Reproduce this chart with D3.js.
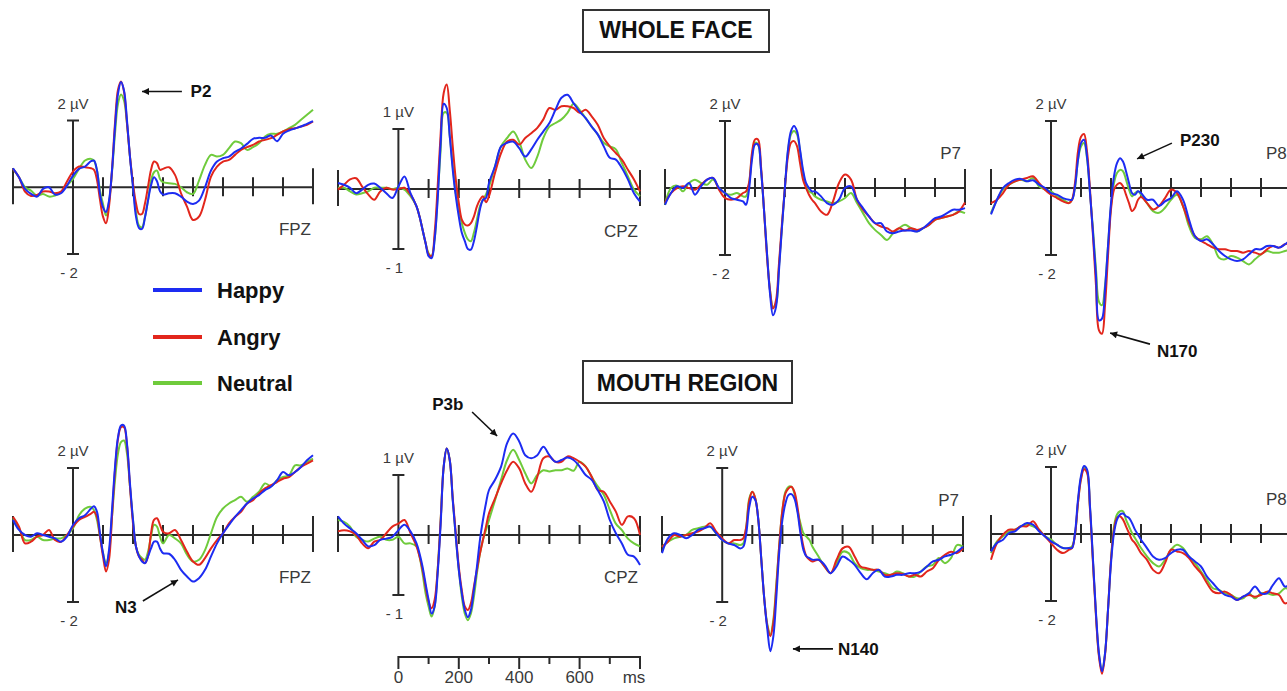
<!DOCTYPE html>
<html><head><meta charset="utf-8">
<script src="https://cdn.jsdelivr.net/npm/d3@7"></script>
<style>
html,body{margin:0;padding:0;background:#fff;}
svg{display:block;}
text{font-family:"Liberation Sans",Arial,Helvetica,sans-serif;}
</style></head><body>
<svg id="chart" width="1287" height="691"></svg>
<script>
// ---------- DATA ----------
const times = [-200,-180,-160,-140,-120,-100,-80,-60,-40,-20,0,20,40,60,
  70,80,90,100,110,120,130,140,150,160,170,180,190,200,210,220,230,240,250,260,270,280,290,300,
  320,340,360,380,400,420,440,460,480,500,520,540,560,580,600,620,640,660,680,700,720,740,760,780,800];

const seriesNames = ["Happy", "Angry", "Neutral"];
const rowTitles = ["WHOLE FACE", "MOUTH REGION"];
const electrodes = ["FPZ", "CPZ", "P7", "P8"];
const yRanges = [2, 1, 2, 2];             // µV of the calibration bar per electrode
const scaleBarTicks = [0, 100, 200, 300, 400, 500, 600, 700, 800];
const scaleBarLabels = [0, 200, 400, 600];

// Whole face
const fpzWholeHappy = [0.57,0.30,-0.05,-0.20,-0.28,-0.05,0.00,-0.22,-0.18,0.05,0.35,0.55,0.62,0.78,
  0.80,0.50,-0.20,-0.60,-0.74,-0.40,0.50,1.80,2.80,3.15,2.90,2.00,0.90,0.00,-0.88,-1.22,-1.25,-0.90,-0.40,0.05,0.30,0.18,-0.12,-0.22,
  -0.18,-0.18,-0.28,-0.43,-0.50,-0.40,0.00,0.50,0.77,0.87,0.92,1.06,1.16,1.30,1.45,1.48,1.48,1.55,1.38,1.60,1.70,1.76,1.82,1.90,1.98];
const fpzWholeAngry = [0.55,0.30,-0.13,-0.26,-0.23,-0.13,-0.13,-0.18,-0.13,0.17,0.47,0.62,0.60,0.57,
  0.52,0.22,-0.38,-0.88,-1.08,-0.58,0.52,1.92,2.92,3.17,2.87,1.92,0.92,0.12,-0.48,-0.80,-0.80,-0.48,0.02,0.52,0.77,0.72,0.52,0.55,
  0.60,0.37,-0.18,-0.58,-0.98,-0.88,-0.38,0.32,0.62,0.77,0.82,0.97,1.12,1.20,1.27,1.37,1.42,1.47,1.57,1.67,1.74,1.77,1.82,1.87,1.97];
const fpzWholeNeutral = [0.55,0.30,0.00,-0.10,-0.25,-0.20,-0.28,-0.25,-0.15,0.05,0.25,0.55,0.80,0.85,
  0.80,0.50,-0.10,-0.50,-0.85,-0.45,0.45,1.60,2.50,2.78,2.60,1.90,0.90,0.05,-0.75,-1.15,-1.20,-0.88,-0.40,0.20,0.45,0.50,0.25,0.15,
  0.12,0.10,0.00,-0.15,-0.20,0.20,0.67,0.97,0.92,0.97,1.17,1.37,1.32,1.12,1.20,1.32,1.52,1.60,1.60,1.67,1.77,1.87,2.02,2.17,2.32];

const cpzWholeHappy = [0.10,0.07,0.02,-0.07,-0.01,0.07,0.09,0.02,-0.07,-0.15,0.04,0.21,-0.07,-0.29,
  -0.46,-0.68,-0.90,-1.12,-1.15,-0.84,-0.18,0.77,1.42,1.35,0.88,0.32,-0.12,-0.46,-0.73,-0.87,-1.00,-1.01,-0.87,-0.62,-0.34,-0.18,-0.15,0.10,
  0.38,0.71,0.77,0.79,0.68,0.54,0.66,0.82,0.96,1.10,1.32,1.52,1.57,1.43,1.29,1.18,1.04,0.91,0.71,0.52,0.49,0.35,0.16,-0.07,-0.21];
const cpzWholeAngry = [-0.01,0.07,0.16,0.18,0.04,-0.09,-0.18,-0.04,0.02,-0.01,0.00,0.02,-0.09,-0.29,
  -0.46,-0.68,-0.90,-1.09,-1.12,-0.73,0.04,0.93,1.60,1.74,1.32,0.71,0.16,-0.23,-0.51,-0.59,-0.61,-0.57,-0.46,-0.29,-0.18,-0.12,-0.22,-0.12,
  0.27,0.60,0.79,0.82,0.74,0.85,0.93,1.02,1.16,1.35,1.32,1.38,1.38,1.35,1.27,1.32,1.21,1.07,0.85,0.71,0.60,0.49,0.32,0.16,-0.04];
const cpzWholeNeutral = [0.02,0.02,-0.04,-0.09,-0.07,-0.04,0.02,0.02,0.02,0.00,0.02,-0.01,-0.12,-0.29,
  -0.46,-0.68,-0.90,-1.07,-1.12,-0.84,-0.12,0.66,1.27,1.27,0.88,0.38,-0.07,-0.34,-0.57,-0.73,-0.84,-0.87,-0.73,-0.51,-0.29,-0.18,-0.09,0.04,
  0.38,0.71,0.85,0.96,0.79,0.49,0.35,0.54,0.85,1.04,1.10,1.16,1.27,1.42,1.32,1.18,1.04,0.91,0.77,0.71,0.66,0.43,0.21,-0.01,-0.12];

const p7WholeHappy = [-0.50,-0.15,0.05,0.00,0.15,-0.20,0.05,0.25,0.30,0.00,-0.15,-0.30,-0.35,-0.40,
  -0.50,-0.05,0.85,1.30,1.30,0.55,-0.65,-1.95,-3.15,-3.80,-3.55,-2.45,-1.15,0.05,1.15,1.70,1.85,1.70,1.15,0.55,0.15,0.00,-0.10,-0.10,
  -0.25,-0.45,-0.50,-0.35,0.00,0.05,-0.35,-0.60,-0.85,-1.05,-1.05,-1.30,-1.35,-1.30,-1.27,-1.27,-1.30,-1.20,-1.05,-0.90,-0.85,-0.75,-0.65,-0.65,-0.60];
const p7WholeAngry = [-0.45,-0.15,0.00,0.05,0.00,-0.05,0.10,0.25,0.30,-0.05,-0.30,-0.35,-0.30,-0.15,
  -0.10,0.15,1.05,1.45,1.45,0.65,-0.65,-2.05,-3.05,-3.60,-3.35,-2.25,-1.05,0.05,0.95,1.35,1.40,1.25,0.75,0.25,0.00,-0.20,-0.35,-0.45,
  -0.70,-0.80,-0.40,0.15,0.40,0.25,-0.35,-0.65,-0.85,-1.05,-1.15,-1.20,-1.30,-1.20,-1.27,-1.20,-1.25,-1.20,-1.10,-0.95,-0.90,-0.85,-0.80,-0.70,-0.43];
const p7WholeNeutral = [-0.50,0.00,0.07,-0.10,0.15,0.25,0.15,0.10,0.25,0.00,-0.15,-0.20,-0.15,-0.25,
  -0.25,0.10,0.95,1.35,1.30,0.55,-0.65,-1.95,-3.05,-3.55,-3.45,-2.35,-1.15,0.05,1.10,1.60,1.70,1.60,1.10,0.45,0.05,-0.10,-0.15,-0.25,
  -0.35,-0.40,-0.45,-0.40,-0.30,-0.15,-0.45,-0.75,-1.05,-1.25,-1.40,-1.55,-1.35,-1.20,-1.10,-1.20,-1.30,-1.20,-1.10,-0.95,-0.90,-0.85,-0.80,-0.70,-0.75];

const p8WholeHappy = [-0.79,-0.35,0.00,0.15,0.25,0.27,0.20,0.23,0.10,0.00,-0.15,-0.20,-0.30,-0.35,
  -0.35,0.05,0.84,1.34,1.44,0.94,-0.15,-1.34,-2.62,-3.95,-3.90,-3.02,-1.73,-0.45,0.35,0.74,0.89,0.79,0.50,0.15,-0.15,-0.20,-0.10,-0.15,
  -0.35,-0.35,-0.54,-0.40,-0.30,-0.10,-0.35,-0.94,-1.44,-1.58,-1.53,-1.68,-1.88,-2.03,-2.13,-2.18,-2.13,-1.98,-1.83,-1.83,-1.73,-1.73,-1.78,-1.68,-1.53];
const p8WholeAngry = [-0.45,-0.35,-0.15,0.10,0.20,0.25,0.30,0.35,0.15,-0.05,-0.20,-0.30,-0.40,-0.45,
  -0.35,0.15,1.09,1.53,1.61,1.09,-0.05,-1.44,-2.92,-4.25,-4.35,-3.51,-2.03,-0.64,-0.05,0.10,0.15,0.05,-0.20,-0.45,-0.69,-0.59,-0.35,-0.27,
  -0.45,-0.64,-0.54,-0.30,-0.05,-0.15,-0.54,-1.04,-1.44,-1.58,-1.68,-1.78,-1.83,-1.83,-1.88,-1.88,-1.93,-1.88,-1.93,-1.98,-1.83,-1.73,-1.78,-1.68,-1.63];
const p8WholeNeutral = [-0.74,-0.35,-0.05,0.10,0.20,0.25,0.20,0.30,0.05,-0.05,-0.10,-0.25,-0.35,-0.45,
  -0.35,0.00,0.84,1.24,1.34,0.89,-0.15,-1.24,-2.43,-3.40,-3.50,-2.92,-1.73,-0.54,0.15,0.45,0.54,0.50,0.25,-0.05,-0.25,-0.15,-0.10,-0.20,
  -0.45,-0.69,-0.74,-0.59,-0.35,-0.20,-0.54,-1.14,-1.49,-1.53,-1.44,-1.68,-2.08,-2.13,-2.03,-2.08,-2.18,-2.28,-2.13,-1.98,-1.88,-1.93,-1.93,-1.88,-1.83];

// Mouth region
const fpzMouthHappy = [0.45,0.15,0.00,-0.05,0.05,0.00,-0.05,-0.10,-0.20,-0.05,0.30,0.50,0.59,0.79,
  0.86,0.69,0.05,-0.54,-0.94,-0.45,0.74,2.03,2.92,3.27,3.27,2.72,1.53,0.45,-0.35,-0.64,-0.79,-0.84,-0.64,-0.40,-0.20,-0.20,-0.40,-0.54,
  -0.56,-0.74,-1.04,-1.24,-1.39,-1.29,-1.04,-0.64,-0.25,0.05,0.30,0.54,0.74,0.94,1.09,1.19,1.34,1.44,1.63,1.88,1.78,1.88,2.03,2.23,2.38];
const fpzMouthAngry = [0.54,0.25,-0.25,-0.20,-0.05,0.00,0.15,-0.15,-0.20,0.00,0.25,0.45,0.54,0.64,
  0.69,0.54,-0.05,-0.64,-1.09,-0.74,0.54,1.93,2.87,3.22,3.22,2.67,1.44,0.35,-0.35,-0.64,-0.74,-0.84,-0.64,0.05,0.45,0.50,0.30,0.10,
  0.05,0.15,-0.15,-0.50,-0.79,-0.89,-0.69,-0.40,-0.15,0.05,0.35,0.54,0.69,0.94,1.04,1.24,1.39,1.49,1.58,1.68,1.73,1.88,2.03,2.13,2.23];
const fpzMouthNeutral = [0.50,0.20,-0.15,-0.15,-0.05,-0.15,-0.15,-0.10,-0.10,0.00,0.20,0.59,0.79,0.84,
  0.74,0.45,-0.05,-0.54,-0.84,-0.54,0.54,1.63,2.43,2.77,2.82,2.43,1.44,0.45,-0.35,-0.59,-0.69,-0.74,-0.50,-0.05,0.30,0.25,-0.05,-0.25,
  0.00,-0.10,-0.25,-0.59,-0.79,-0.74,-0.45,0.05,0.54,0.79,0.94,1.04,1.14,0.99,1.14,1.29,1.54,1.46,1.63,1.73,1.78,2.08,2.08,2.18,2.28];

const cpzMouthHappy = [0.31,0.19,0.11,0.03,-0.08,-0.19,-0.17,-0.08,-0.06,-0.03,0.08,0.17,0.06,-0.14,
  -0.31,-0.53,-0.81,-1.08,-1.31,-1.19,-0.64,0.19,1.14,1.44,1.25,0.58,-0.03,-0.58,-0.97,-1.25,-1.37,-1.25,-0.92,-0.53,-0.08,0.25,0.53,0.75,
  0.92,1.14,1.53,1.69,1.56,1.33,1.28,1.33,1.47,1.33,1.22,1.25,1.29,1.25,1.14,1.00,0.92,0.75,0.56,0.25,0.03,-0.14,-0.33,-0.36,-0.50];
const cpzMouthAngry = [0.06,0.08,0.06,0.00,-0.14,-0.22,-0.11,-0.08,0.03,0.14,0.19,0.25,0.03,-0.19,
  -0.36,-0.58,-0.86,-1.11,-1.22,-1.08,-0.58,0.25,1.14,1.44,1.25,0.61,0.03,-0.53,-0.92,-1.19,-1.25,-1.14,-0.86,-0.58,-0.31,-0.08,0.14,0.36,
  0.61,0.86,1.08,1.22,1.11,0.86,0.72,0.97,1.28,1.31,1.22,1.22,1.31,1.28,1.22,1.14,0.97,0.75,0.72,0.56,0.39,0.17,0.31,0.28,0.00];
const cpzMouthNeutral = [0.25,0.22,0.14,-0.03,-0.08,-0.11,-0.06,-0.03,-0.08,-0.08,-0.03,-0.14,-0.14,-0.19,
  -0.36,-0.64,-0.97,-1.19,-1.36,-1.19,-0.58,0.25,1.14,1.44,1.25,0.58,-0.03,-0.58,-1.03,-1.31,-1.42,-1.31,-1.03,-0.64,-0.31,-0.08,0.08,0.25,
  0.58,0.92,1.25,1.42,1.25,1.03,0.86,1.00,1.08,1.06,1.08,1.08,1.11,1.07,1.22,1.14,0.97,0.81,0.67,0.42,0.19,0.08,-0.06,-0.14,-0.19];

const p7MouthHappy = [-0.54,-0.10,0.05,0.00,-0.10,0.00,0.15,0.20,0.25,0.05,-0.15,-0.25,-0.30,-0.40,
  -0.35,0.05,0.84,1.14,1.04,0.45,-0.74,-1.93,-2.82,-3.47,-3.02,-1.83,-0.45,0.45,0.94,1.19,1.22,1.09,0.69,0.05,-0.45,-0.64,-0.69,-0.74,
  -0.74,-0.89,-1.14,-0.94,-0.64,-0.74,-0.89,-1.14,-1.32,-1.14,-1.04,-1.24,-1.24,-1.19,-1.19,-1.14,-1.14,-1.09,-0.94,-0.79,-0.74,-0.64,-0.59,-0.50,-0.35];
const p7MouthAngry = [-0.35,-0.20,0.00,-0.05,0.00,0.05,0.10,0.20,0.35,0.10,-0.10,-0.25,-0.15,-0.15,
  -0.10,0.25,1.04,1.29,1.09,0.45,-0.74,-1.93,-2.72,-3.02,-2.62,-1.53,-0.25,0.74,1.24,1.39,1.44,1.29,0.84,0.15,-0.35,-0.64,-0.74,-0.79,
  -0.74,-0.94,-1.14,-0.74,-0.40,-0.35,-0.64,-0.94,-0.99,-1.04,-1.04,-1.19,-1.19,-1.14,-1.16,-1.24,-1.19,-1.24,-1.09,-0.99,-0.74,-0.59,-0.50,-0.54,-0.40];
const p7MouthNeutral = [-0.35,-0.20,-0.10,-0.05,0.00,0.15,0.20,0.25,0.25,0.05,-0.15,-0.25,-0.25,-0.30,
  -0.25,0.25,1.09,1.29,1.09,0.45,-0.74,-1.93,-2.67,-2.97,-2.52,-1.43,-0.25,0.74,1.29,1.44,1.44,1.24,0.74,0.35,0.05,-0.05,-0.15,-0.35,
  -0.64,-0.94,-1.14,-0.84,-0.50,-0.54,-0.84,-0.99,-1.04,-1.04,-1.09,-1.14,-1.19,-1.09,-1.14,-1.24,-1.24,-1.09,-0.94,-0.89,-0.69,-0.84,-0.69,-0.30,-0.35];

const p8MouthHappy = [-0.52,-0.27,-0.17,0.03,0.08,0.23,0.33,0.28,0.08,-0.07,-0.22,-0.32,-0.42,-0.42,
  -0.42,0.03,1.03,1.73,2.03,1.93,0.83,-0.77,-2.37,-3.57,-4.10,-3.57,-2.27,-0.87,0.03,0.43,0.58,0.61,0.53,0.48,0.33,0.13,-0.02,-0.17,
  -0.42,-0.67,-0.77,-0.72,-0.57,-0.47,-0.47,-0.67,-0.82,-0.97,-1.27,-1.47,-1.67,-1.82,-1.87,-1.97,-1.87,-1.77,-1.57,-1.77,-1.77,-1.52,-1.32,-1.57,-1.47];
const p8MouthAngry = [-0.77,-0.27,-0.02,0.13,0.13,0.23,0.23,0.38,0.13,-0.07,-0.27,-0.47,-0.57,-0.47,
  -0.42,-0.02,0.93,1.63,1.93,1.83,0.73,-0.87,-2.47,-3.67,-4.17,-3.62,-2.27,-0.77,0.13,0.48,0.53,0.43,0.23,0.03,-0.17,-0.27,-0.42,-0.57,
  -0.77,-1.07,-1.17,-0.87,-0.47,-0.52,-0.57,-0.72,-0.97,-1.17,-1.47,-1.72,-1.77,-1.72,-1.82,-1.97,-1.87,-1.82,-1.87,-1.82,-1.72,-1.77,-1.82,-2.07,-1.97];
const p8MouthNeutral = [-0.57,-0.22,-0.07,0.08,0.13,0.23,0.28,0.23,0.13,-0.07,-0.17,-0.32,-0.42,-0.42,
  -0.37,-0.02,0.93,1.68,1.98,1.88,0.78,-0.82,-2.42,-3.62,-4.07,-3.57,-2.27,-0.77,0.23,0.58,0.68,0.68,0.43,0.23,0.03,-0.12,-0.27,-0.42,
  -0.67,-0.87,-0.97,-0.77,-0.47,-0.32,-0.42,-0.67,-0.87,-1.12,-1.37,-1.62,-1.67,-1.77,-1.82,-1.92,-1.92,-1.77,-1.92,-1.77,-1.77,-1.82,-1.77,-1.62,-1.67];

const panelData = [
  [fpzWholeHappy, fpzWholeAngry, fpzWholeNeutral],
  [cpzWholeHappy, cpzWholeAngry, cpzWholeNeutral],
  [p7WholeHappy, p7WholeAngry, p7WholeNeutral],
  [p8WholeHappy, p8WholeAngry, p8WholeNeutral],
  [fpzMouthHappy, fpzMouthAngry, fpzMouthNeutral],
  [cpzMouthHappy, cpzMouthAngry, cpzMouthNeutral],
  [p7MouthHappy, p7MouthAngry, p7MouthNeutral],
  [p8MouthHappy, p8MouthAngry, p8MouthNeutral]
];

// annotations: panel index, label, tail (t, µV), head (t, µV), text anchor (t, µV)
const annotations = [
  {p:0, text:"P2",   tail:[363, 2.87],  head:[230, 2.87],  pos:[392, 2.69]},
  {p:3, text:"P230", tail:[403, 1.34],  head:[287, 0.87],  pos:[430, 1.25]},
  {p:3, text:"N170", tail:[330, -4.66], head:[197, -4.33], pos:[353, -5.04]},
  {p:4, text:"N3",   tail:[233, -1.97], head:[350, -1.34], pos:[140, -2.33]},
  {p:5, text:"P3b",  tail:[244, 2.05],  head:[327, 1.65],  pos:[112, 2.08]},
  {p:6, text:"N140", tail:[368, -3.40], head:[235, -3.40], pos:[385, -3.58]}
];

// ---------- STYLE / LAYOUT ----------
const colors = {Happy:"#1d2cf2", Angry:"#e2261c", Neutral:"#6fcb3c"};
const axisColor = "#2a2a2a", textColor = "#3a3a3a";
const layout = [
  {x0:13,  x1:313,  yTop:120.5, yBot:254, lab:"below"},
  {x0:338, x1:640,  yTop:129,   yBot:249, lab:"below"},
  {x0:665, x1:965,  yTop:121,   yBot:255, lab:"above"},
  {x0:991, x1:1291, yTop:121,   yBot:255, lab:"aboveStart"},
  {x0:13,  x1:313,  yTop:468,   yBot:602, lab:"below"},
  {x0:338, x1:640,  yTop:475,   yBot:595, lab:"below"},
  {x0:662, x1:963,  yTop:468,   yBot:602, lab:"above"},
  {x0:991, x1:1291, yTop:467,   yBot:601, lab:"aboveStart"}
];

const svg = d3.select("#chart");
const defs = svg.append("defs");
defs.append("marker").attr("id","ah").attr("viewBox","0 0 10 10")
  .attr("refX",10).attr("refY",5).attr("markerWidth",9).attr("markerHeight",7)
  .attr("markerUnits","userSpaceOnUse").attr("orient","auto")
  .append("path").attr("d","M0,0 L10,5 L0,10 Z").attr("fill","#111");

const scales = [];
layout.forEach((L, i) => {
  const eIdx = i % 4;
  const r = yRanges[eIdx];
  const x = d3.scaleLinear().domain([-200, 800]).range([L.x0, L.x1]);
  const y = d3.scaleLinear().domain([-r, r]).range([L.yBot, L.yTop]);
  scales.push({x, y});
  const g = svg.append("g");
  const y0 = y(0);
  // horizontal axis
  g.append("line").attr("x1", x(-200)).attr("x2", x(800)).attr("y1", y0).attr("y2", y0)
    .attr("stroke", axisColor).attr("stroke-width", 2);
  [-200, 800].forEach(t => g.append("line").attr("x1", x(t)).attr("x2", x(t))
    .attr("y1", y0 - 19).attr("y2", y0 + 17).attr("stroke", axisColor).attr("stroke-width", 2));
  d3.range(100, 800, 100).forEach(t => g.append("line").attr("x1", x(t)).attr("x2", x(t))
    .attr("y1", y0 - 10).attr("y2", y0 + 9).attr("stroke", axisColor).attr("stroke-width", 2));
  // calibration (y) bar
  g.append("line").attr("x1", x(0)).attr("x2", x(0)).attr("y1", y(r)).attr("y2", y(-r))
    .attr("stroke", axisColor).attr("stroke-width", 2);
  [r, -r].forEach(v => g.append("line").attr("x1", x(0) - 6).attr("x2", x(0) + 6)
    .attr("y1", y(v)).attr("y2", y(v)).attr("stroke", axisColor).attr("stroke-width", 2));
  g.append("text").attr("x", x(0)).attr("y", y(r) - 12).attr("text-anchor", "middle")
    .attr("font-size", 15).attr("fill", textColor).text(r + " µV");
  g.append("text").attr("x", x(0) - 4).attr("y", y(-r) + 24).attr("text-anchor", "middle")
    .attr("font-size", 15).attr("fill", textColor).text("- " + r);
  // electrode label
  const lt = g.append("text").attr("font-size", 17).attr("fill", textColor).text(electrodes[eIdx]);
  if (L.lab === "below") lt.attr("x", x(800) - 2).attr("y", y0 + 48).attr("text-anchor", "end");
  else if (L.lab === "above") lt.attr("x", x(800) - 4).attr("y", y0 - 29).attr("text-anchor", "end");
  else lt.attr("x", x(800) - 25).attr("y", y0 - 29).attr("text-anchor", "start");
  // waveforms
  const line = d3.line().x((d, k) => x(times[k])).y(d => y(d)).curve(d3.curveCatmullRom.alpha(0.5));
  [2, 1, 0].forEach(s => {
    g.append("path").datum(panelData[i][s]).attr("d", line).attr("fill", "none")
      .attr("stroke", colors[seriesNames[s]]).attr("stroke-width", 2).attr("stroke-linejoin", "round");
  });
});

// titles
[[583, 10, 186, 42, 38], [583, 361, 209, 42, 391]].forEach((b, k) => {
  svg.append("rect").attr("x", b[0]).attr("y", b[1]).attr("width", b[2]).attr("height", b[3])
    .attr("fill", "#fff").attr("stroke", "#333").attr("stroke-width", 2);
  svg.append("text").attr("x", b[0] + b[2] / 2).attr("y", b[4]).attr("text-anchor", "middle")
    .attr("font-size", 23).attr("font-weight", "bold").attr("fill", "#111").text(rowTitles[k]);
});

// legend
seriesNames.forEach((n, k) => {
  const yy = [290, 337, 383][k];
  svg.append("line").attr("x1", 153).attr("x2", 202).attr("y1", yy).attr("y2", yy)
    .attr("stroke", colors[n]).attr("stroke-width", 4);
  svg.append("text").attr("x", 217).attr("y", yy + 8).attr("font-size", 22).attr("font-weight", "bold")
    .attr("fill", "#111").text(n);
});

// annotations
annotations.forEach(a => {
  const s = scales[a.p];
  svg.append("line").attr("x1", s.x(a.tail[0])).attr("y1", s.y(a.tail[1]))
    .attr("x2", s.x(a.head[0])).attr("y2", s.y(a.head[1]))
    .attr("stroke", "#111").attr("stroke-width", 1.6).attr("marker-end", "url(#ah)");
  svg.append("text").attr("x", s.x(a.pos[0])).attr("y", s.y(a.pos[1])).attr("font-size", 17)
    .attr("font-weight", "bold").attr("fill", "#111").text(a.text);
});

// time scale bar (uses CPZ mouth-panel time scale)
const sx = scales[5].x, sbY = 657;
svg.append("line").attr("x1", sx(0)).attr("x2", sx(800)).attr("y1", sbY).attr("y2", sbY)
  .attr("stroke", axisColor).attr("stroke-width", 2);
scaleBarTicks.forEach(t => {
  const long = t % 200 === 0;
  svg.append("line").attr("x1", sx(t)).attr("x2", sx(t)).attr("y1", sbY - 1).attr("y2", sbY + (long ? 12 : 7))
    .attr("stroke", axisColor).attr("stroke-width", 2);
});
scaleBarLabels.forEach(t => svg.append("text").attr("x", sx(t)).attr("y", 683).attr("text-anchor", "middle")
  .attr("font-size", 17).attr("fill", textColor).text(t));
svg.append("text").attr("x", sx(800) - 6).attr("y", 683).attr("text-anchor", "middle")
  .attr("font-size", 17).attr("fill", textColor).text("ms");
</script>
</body></html>
